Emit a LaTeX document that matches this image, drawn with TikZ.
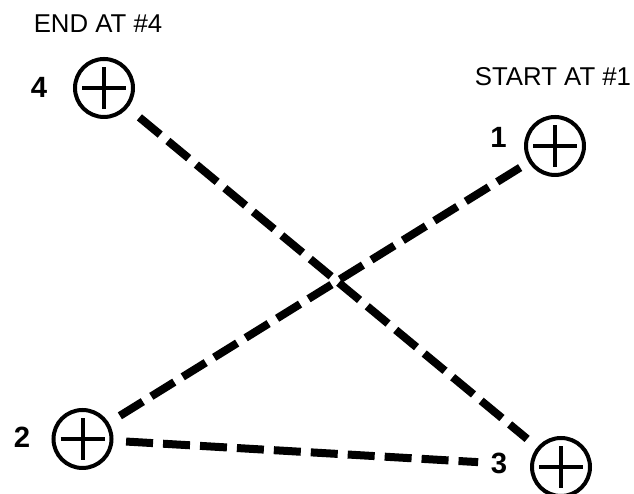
\documentclass[tikz,border=0pt]{standalone}
\usepackage{fontspec}
\setmainfont{Liberation Sans}

\begin{document}
\begin{tikzpicture}[
        target/.style={circle, draw, line width=0.12cm, minimum size=1.74cm, inner sep=0pt,
            path picture={\draw[line width=0.12cm]
                (path picture bounding box.center) ++(-0.66,0) -- ++(1.32,0)
                (path picture bounding box.center) ++(0,-0.62) -- ++(0,1.24);}},
        num/.style={font=\fontsize{25}{29}\selectfont\bfseries, inner sep=0pt},
        note/.style={font=\fontsize{22}{26}\selectfont, inner sep=0pt},
        route/.style={line width=0.24cm, dash pattern=on 0.81cm off 0.3cm}]
            \useasboundingbox (0,0) rectangle (19.02,14.82);

            \node[note] (endnote) at (2.94,14.115) {END AT \#4};
            \node[note] (startnote) at (16.59,12.525) {START AT \#1};

            \node[target] (p4) at (3.12,12.18) {};
            \node[target] (p1) at (16.65,10.44) {};
            \node[target] (p2) at (2.475,1.65) {};
            \node[target] (p3) at (16.83,0.81) {};

            \node[num] (n4) at (1.17,12.21) {4};
            \node[num] (n1) at (14.955,10.695) {1};
            \node[num] (n2) at (0.66,1.71) {2};
            \node[num] (n3) at (14.97,0.93) {3};

            \draw[route, shorten <=0.30cm, shorten >=0.24cm] (p1) -- (p2);
            \draw[route, shorten <=0.38cm, shorten >=1.56cm] (p2) -- (p3);
            \draw[route, shorten <=0.45cm, shorten >=0.39cm] (p4) -- (p3);
        \end{tikzpicture}
\end{document}
